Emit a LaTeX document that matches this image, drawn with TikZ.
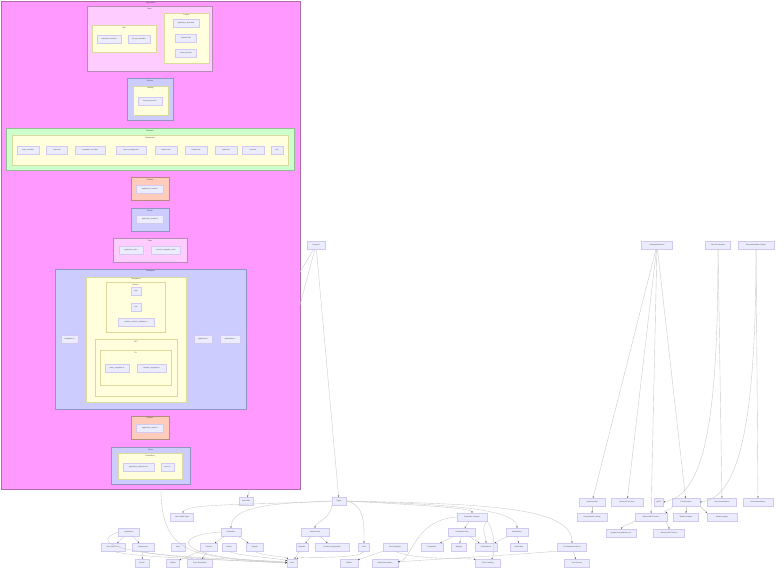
\documentclass[tikz,border=0pt]{standalone}
\usepackage{fontspec}
\setmainfont{Liberation Sans}
\usetikzlibrary{arrows.meta}
\definecolor{nfill}{HTML}{ECECFF}
\definecolor{nborder}{HTML}{D2C8F2}
\definecolor{cmag}{HTML}{FF99FF}
\definecolor{cmagb}{HTML}{B06AB0}
\definecolor{cpink}{HTML}{FFCCFF}
\definecolor{cpinkb}{HTML}{B48CB4}
\definecolor{cyel}{HTML}{FFFFDE}
\definecolor{cyelb}{HTML}{DADA9A}
\definecolor{clav}{HTML}{CCCCFF}
\definecolor{clavb}{HTML}{9494BE}
\definecolor{cgrn}{HTML}{CCFFCC}
\definecolor{cgrnb}{HTML}{94BC94}
\definecolor{csal}{HTML}{FFCCBB}
\definecolor{csalb}{HTML}{B48C80}
\newcommand\clbox[7]{\path[draw=#6, fill=#5, line width=0.45pt] (#1,#2) rectangle (#3,#4);
  \node[ttl] at ({(#1+#3)/2},{#2+2.4}) {#7};}
\tikzset{
  nd/.style={draw=nborder, fill=nfill, line width=0.25pt, minimum height=8, minimum width=#1,
    inner sep=0.3pt, font=\fontsize{1.75}{2.2}\selectfont, text=black!70},
  nd/.default=14,
  ttl/.style={font=\fontsize{1.9}{2.4}\selectfont, text=black!70, inner sep=0pt},
  ed/.style={draw=black!20, line width=0.4pt, -{Stealth[length=1.5pt,width=1.3pt,black!75]}},
  ln/.style={draw=black!20, line width=0.4pt},
}
\begin{document}
\begin{tikzpicture}[x=1pt,y=-1pt]
\useasboundingbox (0,0) rectangle (784,576);
\fill[white] (0,0) rectangle (784,576);

% ---------- clusters ----------
\clbox{1}{1}{300}{489}{cmag}{cmagb}{Application}
\clbox{87}{6}{212}{71}{cpink}{cpinkb}{View}
\clbox{92}{25}{156}{52}{cyel}{cyelb}{Tab}
\clbox{164}{13}{209}{63}{cyel}{cyelb}{Layout}
\clbox{127}{78}{173}{120}{clav}{clavb}{Section}
\clbox{133}{86}{168}{115}{cyel}{cyelb}{Display}
\clbox{6}{128}{294}{170}{cgrn}{cgrnb}{Interface}
\clbox{12}{135}{288}{165}{cyel}{cyelb}{Dashboard}
\clbox{131}{177}{169}{200}{csal}{csalb}{Models}
\clbox{131}{208}{169}{231}{clav}{clavb}{Mobile}
\clbox{113}{238}{187}{262}{cpink}{cpinkb}{View}
\clbox{55}{269}{246}{409}{clav}{clavb}{Navigation}
\clbox{86}{277}{186}{402}{cyel}{cyelb}{Navigation}
\clbox{106}{282}{165}{332}{cyel}{cyelb}{Routes}
\clbox{95}{339}{177}{396}{cyel}{cyelb}{API}
\clbox{100}{350}{171}{385}{cyel}{cyelb}{V1}
\clbox{131}{416}{169}{439}{csal}{csalb}{Helpers}
\clbox{111}{447}{190}{484}{clav}{clavb}{Tests}
\clbox{118}{453}{182}{479}{cyel}{cyelb}{Controllers}

% ---------- nodes inside ----------
\node[nd=24] (v1) at (109,39) {standard\_view.dart};
\node[nd=22] (v2) at (139,39) {list\_tab\_window.h};
\node[nd=26] (v3) at (186,23) {application\_form.dart};
\node[nd=21] (v4) at (186,38) {network.dart};
\node[nd=21] (v5) at (186,53) {status\_bar.dart};
\node[nd=24] (s1) at (150,101) {manual\_section.h};
\node[nd=22] (d1) at (28,150) {stats\_card.dart};
\node[nd=21] (d2) at (57,150) {chart.dart};
\node[nd=30] (d3) at (90,150) {competitor\_card.dart};
\node[nd=30] (d4) at (131,150) {metrics\_display.dart};
\node[nd=22] (d5) at (166,150) {sidebar.dart};
\node[nd=22] (d6) at (196,150) {header.dart};
\node[nd=22] (d7) at (226,150) {table.dart};
\node[nd=22] (d8) at (253,150) {card.dart};
\node[nd=12] (d9) at (277,150) {utils};
\node[nd=27] (m1) at (150,189) {application\_record.h};
\node[nd=27] (m2) at (150,219) {application\_mobile.h};
\node[nd=24] (p1) at (131,250) {application\_tab.h};
\node[nd=29] (p2) at (166,250) {manual\_navigation\_tab.h};
\node[nd=10] (c1) at (136,291) {App};
\node[nd=10] (c2) at (136,307) {Info};
\node[nd=36] (c3) at (136,322) {product\_channel\_validation.h};
\node[nd=24] (c4) at (117,368) {base\_navigation.h};
\node[nd=29] (c5) at (151.5,368) {channel\_navigation.h};
\node[nd=17] (l1) at (69.5,339) {Navigation.h};
\node[nd=18] (rr1) at (203,339) {application.h};
\node[nd=20] (rr2) at (230,339) {application.cc};
\node[nd=27] (h1) at (150,428) {application\_helper.h};
\node[nd=31] (t1) at (138.5,467) {application\_behaviour.cc};
\node[nd=13] (t2) at (167.5,467) {main.cc};

% ---------- outside nodes ----------
\node[nd=18] (fe) at (316,245) {Frontend};
\node[nd=14] (sb) at (246,501) {searchBar};
\node[nd=14] (pg) at (339,501) {Pages};
\node[nd=23] (a1) at (182,517) {User Profile Page};
\node[nd=21] (b1) at (129,532) {Application};
\node[nd=24] (b2) at (113,547) {User Data Fetch};
\node[nd=22] (b3) at (143,547) {Components};
\node[nd=14] (b4) at (178,547) {Auth};
\node[nd=17] (b5) at (209,547) {Services};
\node[nd=14] (b6) at (229,547) {Assets};
\node[nd=17] (b7) at (255,547) {Reports};
\node[nd=20] (a2) at (231,532) {Controllers};
\node[nd=14] (e1) at (142,563) {Charts};
\node[nd=13] (e2) at (173,563) {Utilities};
\node[nd=25] (e3) at (200,563) {Error Boundaries};
\node[nd=10] (e4) at (292,563) {Store};
\node[nd=28] (f1) at (315,532) {Infrastructure};
\node[nd=12] (f2) at (302,547) {Modules};
\node[nd=34] (f3) at (332,547) {Container Registration};
\node[nd=11] (f4) at (364,547) {Chat};
\node[nd=24] (f5) at (395,547) {Error Handling};
\node[nd=18] (g1) at (349,563) {Toolbar};
\node[nd=26] (g2) at (385,563) {Global Interceptors};
\node[nd=30] (ca) at (472,517) {Competitor Analysis};
\node[nd=27] (i1) at (462,532) {Competitor Data};
\node[nd=22] (i2) at (517,532) {Notifications};
\node[nd=22] (j1) at (432,547) {Competitor};
\node[nd=15] (j2) at (459,547) {Widgets};
\node[nd=22] (j3) at (486,547) {Performance};
\node[nd=17] (j4) at (519,547) {Notification};
\node[nd=25] (k1) at (488,563) {Error Handling};
\node[nd=29] (k2) at (572,547) {UI Components/Icons};
\node[nd=25] (k3) at (577,563) {Icon Sources};

\node[nd=31] (r1) at (657,245) {Database/Backend};
\node[nd=25] (r2) at (718,245) {Data Visualization};
\node[nd=36] (r3) at (756,245) {Recommendation Engine};
\node[nd=26] (q1) at (592,502) {Supabase/Api};
\node[nd=32] (q2) at (627,502) {Backend Functions};
\node[nd=9]  (q3) at (659,502) {gRPC};
\node[nd=28] (q4) at (686,502) {Trend Analysis};
\node[nd=29] (q5) at (722,502) {Data Visualizations};
\node[nd=30] (q6) at (758,502) {Recommendations};
\node[nd=30] (q7) at (592,517) {Authentication Dialog};
\node[nd=32] (q8) at (651,517) {Backend/API Service};
\node[nd=25] (q9) at (686,517) {Market Analysis};
\node[nd=30] (q10) at (722,517) {Market Insights};
\node[nd=30] (q11) at (621,533) {google-auto-prediction\_v1};
\node[nd=31] (q12) at (669,533) {Backend API Service};

% ---------- coordinates on the Application box ----------
\coordinate (ap1) at (300,272);
\coordinate (ap2) at (300,305);
\coordinate (ap3) at (250,489);
\coordinate (ap4) at (161,489);

% ---------- edges ----------
\draw[ln] (fe) -- (ap1);
\draw[ln] (fe) -- (ap2);
\draw[ed] (fe) -- (pg);
\draw[ed] (ap3) -- (sb);
\draw[ed] (ap4) .. controls (161,560) and (200,556) .. (e4);

\draw[ed] (pg.west) .. controls (260,505) and (185,503) .. (a1);
\draw[ed] (pg.west) .. controls (280,503) and (231,505) .. (a2);
\draw[ed] (pg.east) .. controls (364,505) and (364,520) .. (f4);
\draw[ed] (pg.east) .. controls (420,505) and (472,508) .. (ca);
\draw[ed] (pg.east) .. controls (440,504) and (517,508) .. (i2);
\draw[ed] (pg.east) .. controls (480,504) and (572,506) .. (k2);
\draw[ed] (pg.south west) .. controls (330,520) and (315,522) .. (f1);

\draw[ed] (b1) -- (b2);
\draw[ed] (b1) -- (b3);
\draw[ed] (b1.west) .. controls (95,540) and (95,556) .. (e4);
\draw[ed] (b3) -- (e1);
\draw[ed] (b3.south) .. controls (150,557) and (270,560) .. (e4);
\draw[ed] (b2.south) .. controls (130,558) and (260,561) .. (e4);

\draw[ed] (a2) -- (b5);
\draw[ed] (a2) -- (b7);
\draw[ed] (a2.west) .. controls (170,535) and (170,558) .. (e4);
\draw[ed] (b5) -- (e2);
\draw[ed] (b5) -- (e3);
\draw[ed] (b7.south) .. controls (260,556) and (285,556) .. (e4);
\draw[ed] (b6.south) .. controls (235,556) and (280,558) .. (e4);

\draw[ed] (f1) -- (f2);
\draw[ed] (f1) -- (f3);
\draw[ed] (f2) -- (e4);
\draw[ed] (f4.south) .. controls (360,560) and (300,556) .. (e4);
\draw[ed] (f5) -- (g1);
\draw[ed] (f5.south) .. controls (410,560) and (470,558) .. (k1);

\draw[ed] (ca) -- (i1);
\draw[ed] (ca.south east) .. controls (480,528) and (486,535) .. (j3);
\draw[ed] (ca.west) .. controls (413,520) and (413,560) .. (g2);
\draw[ed] (ca.south east) .. controls (495,530) and (495,555) .. (k1);
\draw[ed] (i1) -- (j1);
\draw[ed] (i1) -- (j2);
\draw[ed] (i1) -- (j3);
\draw[ed] (i2) -- (j3);
\draw[ed] (i2) -- (j4);
\draw[ed] (k2) -- (k3);
\draw[ed] (k2.south west) .. controls (500,556) and (420,560) .. (g2);

\draw[ed] (r1) -- (q1);
\draw[ed] (r1) -- (q2);
\draw[ed] (r1) -- (q8);
\draw[ed] (r1) -- (q4);
\draw[ed] (r2.south) .. controls (718,420) and (705,495) .. (q3.east);
\draw[ed] (r2) -- (q5);
\draw[ed] (r3.south) .. controls (756,420) and (740,498) .. (q4.east);
\draw[ed] (r3) -- (q6);
\draw[ed] (q1) -- (q7);
\draw[ed] (q4.south west) .. controls (675,510) and (660,510) .. (q8.north east);
\draw[ed] (q4) -- (q9);
\draw[ed] (q4.south east) -- (q10.north west);
\draw[ed] (q8.south west) .. controls (630,524) and (622,526) .. (q11);
\draw[ed] (q8.south east) .. controls (665,524) and (669,526) .. (q12);
\end{tikzpicture}
\end{document}
